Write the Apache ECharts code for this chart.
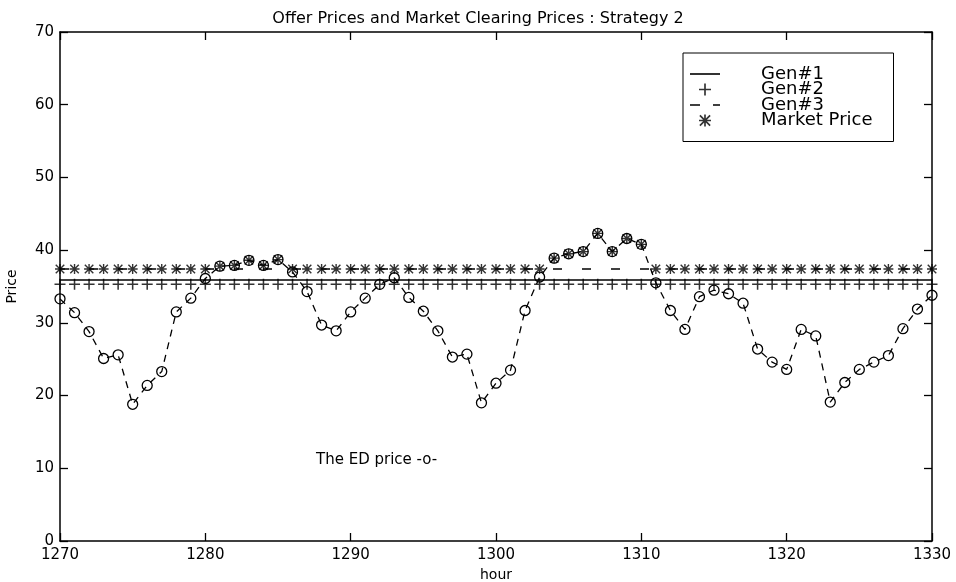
<!DOCTYPE html>
<html>
<head>
<meta charset="utf-8">
<script src="https://cdn.jsdelivr.net/npm/echarts@6/dist/echarts.min.js"></script>
<style>
    html, body { margin: 0; padding: 0; background: #fff; }
    #chart { width: 956px; height: 582px; }
</style>
</head>
<body>
<div id="chart"></div>
<script>
// data
const hours = [
    1270, 1271, 1272, 1273, 1274, 1275, 1276, 1277, 1278, 1279,
    1280, 1281, 1282, 1283, 1284, 1285, 1286, 1287, 1288, 1289,
    1290, 1291, 1292, 1293, 1294, 1295, 1296, 1297, 1298, 1299,
    1300, 1301, 1302, 1303, 1304, 1305, 1306, 1307, 1308, 1309,
    1310, 1311, 1312, 1313, 1314, 1315, 1316, 1317, 1318, 1319,
    1320, 1321, 1322, 1323, 1324, 1325, 1326, 1327, 1328, 1329,
    1330,
]
const edPrice = [
    33.3, 31.4, 28.8, 25.1, 25.6, 18.8, 21.4, 23.3, 31.5, 33.4,
    36.1, 37.8, 37.9, 38.6, 37.9, 38.7, 37.0, 34.3, 29.7, 28.9,
    31.5, 33.4, 35.3, 36.2, 33.5, 31.6, 28.9, 25.3, 25.7, 19.0,
    21.7, 23.5, 31.7, 36.3, 38.9, 39.5, 39.8, 42.3, 39.8, 41.6,
    40.8, 35.5, 31.7, 29.1, 33.6, 34.5, 34.0, 32.7, 26.4, 24.6,
    23.6, 29.1, 28.2, 19.1, 21.8, 23.6, 24.6, 25.5, 29.2, 31.9,
    33.8,
]
const marketPrice = [
    37.4, 37.4, 37.4, 37.4, 37.4, 37.4, 37.4, 37.4, 37.4, 37.4,
    37.4, 37.8, 37.9, 38.6, 37.9, 38.7, 37.4, 37.4, 37.4, 37.4,
    37.4, 37.4, 37.4, 37.4, 37.4, 37.4, 37.4, 37.4, 37.4, 37.4,
    37.4, 37.4, 37.4, 37.4, 38.9, 39.5, 39.8, 42.3, 39.8, 41.6,
    40.8, 37.4, 37.4, 37.4, 37.4, 37.4, 37.4, 37.4, 37.4, 37.4,
    37.4, 37.4, 37.4, 37.4, 37.4, 37.4, 37.4, 37.4, 37.4, 37.4,
    37.4,
]
// offer price of each generator (flat over the period)
const gen1Offer = 35.9
const gen2Offer = 35.3
const gen3Offer = 37.4
const legendNames = ['Gen#1', 'Gen#2', 'Gen#3', 'Market Price']
const xTicks = [1270, 1330, 10]
const yTicks = [0, 70, 10]

const font = 'DejaVu Sans'
const plusPath = 'path://M0,8.6H20V11.4H0Z M8.6,0H11.4V20H8.6Z'
const starPath = 'path://M0,8.6H20V11.4H0Z M8.6,0H11.4V20H8.6Z ' +
    'M0.5,2.5L2.5,0.5L19.5,17.5L17.5,19.5Z M17.5,0.5L19.5,2.5L2.5,19.5L0.5,17.5Z'
// legend samples for the two line series
const solidIcon = 'path://M0,0H30V1.6H0Z'
const dashIcon = 'path://M0,0H10V1.6H0Z M23,0H30V1.6H23Z'

const pair = (arr) => hours.map((h, i) => [h, arr[i]])
const flat = (v) => hours.map((h) => [h, v])

const chartDom = document.getElementById('chart')
let myChart = echarts.init(chartDom, null, { renderer: 'canvas' })

function axisBase(pos) {
    return {
        type: 'value',
        position: pos,
        axisLine: { show: true, onZero: false, lineStyle: { color: '#000', width: 1.5 } },
        axisTick: { show: true, inside: true, length: 8, lineStyle: { color: '#000', width: 1.3 } },
        splitLine: { show: false },
    }
}

let option = {
    animation: false,
    backgroundColor: '#fff',
    title: {
        text: 'Offer Prices and Market Clearing Prices : Strategy 2',
        left: 'center',
        top: 6,
        textStyle: { fontFamily: font, fontSize: 16, fontWeight: 'normal', color: '#000' },
    },
    grid: { left: 60, right: 24, top: 32, bottom: 41, outerBoundsMode: 'none' },
    legend: {
        data: [
            { name: legendNames[0], icon: solidIcon },
            { name: legendNames[1] },
            { name: legendNames[2], icon: dashIcon },
            { name: legendNames[3] },
        ],
        orient: 'vertical',
        left: 683,
        top: 53,
        padding: [12, 21, 12, 7],
        itemWidth: 30,
        itemHeight: 12,
        itemGap: -2.5,
        backgroundColor: '#fff',
        borderColor: '#000',
        borderWidth: 1,
        formatter: (name) => `{t|${name}}`,
        textStyle: {
            fontFamily: font,
            fontSize: 18,
            color: '#000',
            rich: { t: { fontFamily: font, fontSize: 18, padding: [0, 0, 0, 36], color: '#000' } },
        },
    },
    xAxis: [
        Object.assign(axisBase('bottom'), {
            min: xTicks[0], max: xTicks[1], interval: xTicks[2],
            name: 'hour', nameLocation: 'middle', nameGap: 22,
            nameTextStyle: { fontFamily: font, fontSize: 14, color: '#000' },
            axisLabel: { fontFamily: font, fontSize: 15, color: '#000', margin: 7, formatter: (v) => String(v) },
        }),
        Object.assign(axisBase('top'), {
            min: xTicks[0], max: xTicks[1], interval: xTicks[2],
            axisLabel: { show: false },
        }),
    ],
    yAxis: [
        Object.assign(axisBase('left'), {
            min: yTicks[0], max: yTicks[1], interval: yTicks[2],
            name: 'Price', nameLocation: 'middle', nameGap: 41, nameRotate: 90,
            nameTextStyle: { fontFamily: font, fontSize: 14, color: '#000' },
            axisLabel: { fontFamily: font, fontSize: 15, color: '#000', margin: 6 },
        }),
        Object.assign(axisBase('right'), {
            min: yTicks[0], max: yTicks[1], interval: yTicks[2],
            axisLabel: { show: false },
        }),
    ],
    graphic: [
        {
            type: 'text',
            left: 316,
            top: 453,
            style: { text: 'The ED price -o-', font: `15px "${font}"`, fill: '#000' },
        },
    ],
    series: [
        {
            name: 'Gen#1',
            type: 'line',
            data: flat(gen1Offer),
            symbol: 'none',
            lineStyle: { color: '#000', width: 1.5 },
            itemStyle: { color: '#000' },
        },
        {
            name: 'Gen#2',
            type: 'scatter',
            data: flat(gen2Offer),
            symbol: plusPath,
            symbolSize: 11,
            itemStyle: { color: '#000' },
        },
        {
            name: 'Gen#3',
            type: 'line',
            data: flat(gen3Offer),
            symbol: 'none',
            lineStyle: { color: '#000', width: 1.4, type: [9, 20] },
            itemStyle: { color: '#000' },
        },
        {
            name: 'Market Price',
            type: 'scatter',
            data: pair(marketPrice),
            symbol: starPath,
            symbolSize: 10,
            itemStyle: { color: '#000' },
        },
        {
            name: 'ED price',
            type: 'line',
            data: pair(edPrice),
            symbol: 'circle',
            symbolSize: 10,
            showAllSymbol: true,
            lineStyle: { color: '#000', width: 1.3, type: [7, 6] },
            itemStyle: { color: 'rgba(0,0,0,0)', borderColor: '#000', borderWidth: 1.3 },
            z: 3,
        },
    ],
}

myChart.setOption(option)
</script>
</body>
</html>
